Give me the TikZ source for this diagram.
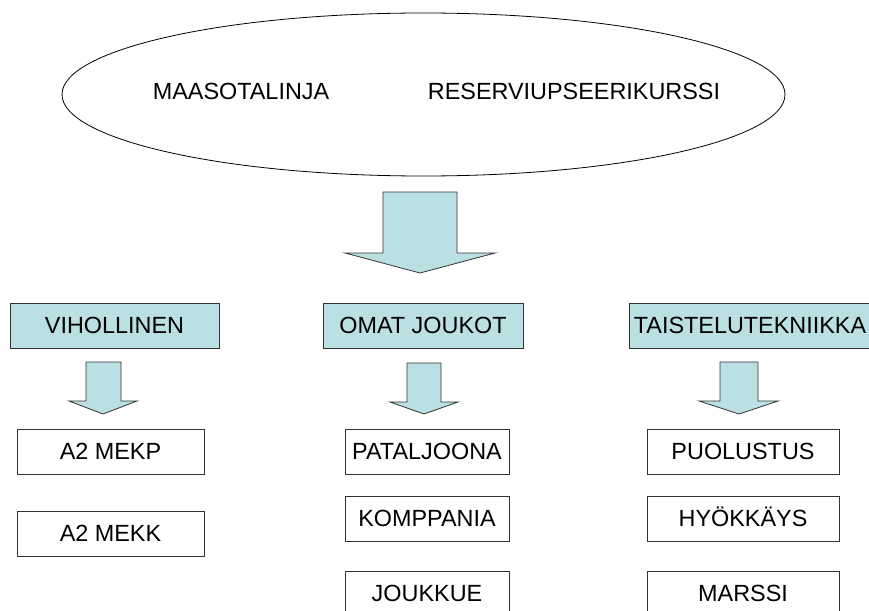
\documentclass[tikz,border=0pt]{standalone}
\usepackage{fontspec}
\setmainfont{Liberation Sans}
\usetikzlibrary{shapes.geometric}
\definecolor{boxblue}{HTML}{BBE0E3}
\definecolor{edge}{HTML}{333333}
\begin{document}
\begin{tikzpicture}[x=1pt,y=-1pt,
  lbl/.style={font=\fontsize{23.4}{28}\selectfont, text height=16.8pt, text depth=0pt, inner sep=0pt},
  topbox/.style={draw=edge, line width=0.8pt, fill=boxblue, rectangle},
  subbox/.style={draw=edge, line width=0.8pt, fill=white, rectangle},
  blockarrow/.style={draw=edge, line width=0.8pt, fill=boxblue, line join=miter}]
\useasboundingbox (0,0) rectangle (869,610);
\clip (0,0) rectangle (869,610);
% ellipse
\node[draw=black, line width=0.8pt, ellipse, minimum width=723pt, minimum height=163pt, inner sep=0pt] (ell) at (423.5,94.5) {};
\node[lbl] (maa) at (241,91.5) {MAASOTALINJA};
\node[lbl] (res) at (574,91.5) {RESERVIUPSEERIKURSSI};
% big arrow
\draw[blockarrow] (383,192) -- (457,192) -- (457,253) -- (495,253) -- (420,273) -- (345,253) -- (383,253) -- cycle;
% top boxes
\draw[topbox] (10,303) rectangle (219,348);
\node[lbl] (vih) at (114.5,325.5) {VIHOLLINEN};
\draw[topbox] (323,303) rectangle (523,348);
\node[lbl] (omat) at (423,325.5) {OMAT JOUKOT};
\draw[topbox] (629,303) rectangle (870,348);
\node[lbl] (tais) at (750,325.5) {TAISTELUTEKNIIKKA};
% small arrows
\draw[blockarrow] (86,362) -- (121,362) -- (121,401) -- (137,401) -- (103,414) -- (69,401) -- (86,401) -- cycle;
\draw[blockarrow] (407,363) -- (441,363) -- (441,402) -- (458,402) -- (424,414) -- (390,402) -- (407,402) -- cycle;
\draw[blockarrow] (720,362) -- (758,362) -- (758,401) -- (778,401) -- (739,414) -- (699,401) -- (720,401) -- cycle;
% left column
\draw[subbox] (17,429) rectangle (204,474);
\node[lbl] (mekp) at (110.5,451.5) {A2 MEKP};
\draw[subbox] (17,511) rectangle (204,556);
\node[lbl] (mekk) at (110.5,533.5) {A2 MEKK};
% middle column
\draw[subbox] (345,429) rectangle (509,474);
\node[lbl] (pat) at (427,451.5) {PATALJOONA};
\draw[subbox] (345,496) rectangle (509,541);
\node[lbl] (kom) at (427,518.5) {KOMPPANIA};
\draw[subbox] (345,571) rectangle (509,616);
\node[lbl] (jou) at (427,593.5) {JOUKKUE};
% right column
\draw[subbox] (647,429) rectangle (839,474);
\node[lbl] (puo) at (743,451.5) {PUOLUSTUS};
\draw[subbox] (647,496) rectangle (839,541);
\node[lbl] (hyo) at (743,518.5) {HYÖKKÄYS};
\draw[subbox] (647,571) rectangle (839,616);
\node[lbl] (mar) at (743,593.5) {MARSSI};
\end{tikzpicture}
\end{document}
